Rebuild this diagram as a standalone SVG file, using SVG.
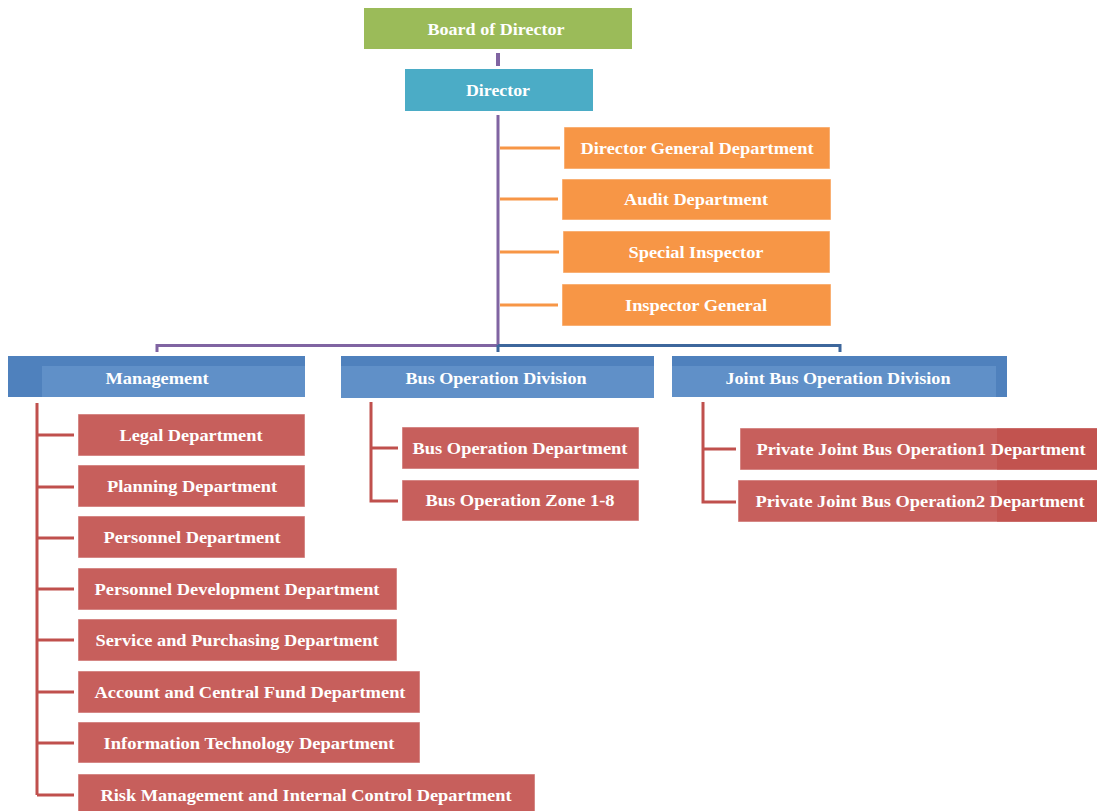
<svg xmlns="http://www.w3.org/2000/svg" width="1097" height="811" viewBox="0 0 1097 811">
<style>
text{font-family:"Liberation Serif","Times New Roman",serif;font-weight:bold;font-size:16px;fill:#fff;text-anchor:middle}
.r{fill:#C75F5C;stroke:#fff;stroke-opacity:0.5;stroke-width:1}
.o{fill:#F79646;stroke:#fff;stroke-opacity:0.5;stroke-width:1}
.b{fill:#4F81BD}
.bi{fill:#6090C8}
.lr{stroke:#C0504D;stroke-width:3;fill:none}
.lo{stroke:#F79646;stroke-width:3;fill:none}
</style>
<rect width="1097" height="811" fill="#fff"/>
<g id="connectors">
<line x1="498" y1="53" x2="498" y2="66" stroke="#8064A2" stroke-width="4"/>
<path d="M498 115 V346 M157 352 V345.5 H498" stroke="#8064A2" stroke-width="3" fill="none"/>
<path d="M498 345.5 H840 V352 M498 345 V352" stroke="#3D679C" stroke-width="3" fill="none"/>
<path class="lo" d="M500 148 H560 M500 199 H558 M500 252 H559 M500 305 H558"/>
<path class="lr" d="M37 403 V795 M37 435 H74 M37 487 H74 M37 538 H74 M37 589 H74 M37 640 H74 M37 692 H74 M37 743 H74 M37 795 H74"/>
<path class="lr" d="M371 402 V501 H398 M371 448 H398"/>
<path class="lr" d="M703 402 V502 H736 M703 449 H736"/>
</g>
<g id="board"><rect x="364" y="8" width="268" height="41" fill="#9BBB59"/><text x="496" y="35" textLength="137" lengthAdjust="spacingAndGlyphs">Board of Director</text></g>
<g id="director"><rect x="405" y="69" width="188" height="42" fill="#4BACC6"/><text x="498" y="96" textLength="64" lengthAdjust="spacingAndGlyphs">Director</text></g>
<g id="dgd"><rect class="o" x="564" y="127" width="266" height="42"/><text x="697" y="154" textLength="233" lengthAdjust="spacingAndGlyphs">Director General Department</text></g>
<g id="audit"><rect class="o" x="562" y="179" width="269" height="41"/><text x="696" y="205" textLength="144" lengthAdjust="spacingAndGlyphs">Audit Department</text></g>
<g id="special"><rect class="o" x="563" y="231" width="267" height="42"/><text x="696" y="258" textLength="135" lengthAdjust="spacingAndGlyphs">Special Inspector</text></g>
<g id="ig"><rect class="o" x="562" y="284" width="269" height="42"/><text x="696" y="311" textLength="142" lengthAdjust="spacingAndGlyphs">Inspector General</text></g>
<g id="management"><rect class="b" x="8" y="356" width="297" height="41"/><rect class="bi" x="42" y="366" width="263" height="31"/><text x="157" y="384" textLength="103" lengthAdjust="spacingAndGlyphs">Management</text></g>
<g id="bod"><rect class="b" x="341" y="356" width="313" height="42"/><rect class="bi" x="341" y="366" width="313" height="32"/><text x="496" y="384" textLength="181" lengthAdjust="spacingAndGlyphs">Bus Operation Division</text></g>
<g id="jbod"><rect class="b" x="672" y="356" width="335" height="41"/><rect class="bi" x="672" y="366" width="324" height="31"/><text x="838" y="384" textLength="225" lengthAdjust="spacingAndGlyphs">Joint Bus Operation Division</text></g>
<g id="legal"><rect class="r" x="78" y="414" width="227" height="42"/><text x="191" y="441" textLength="143" lengthAdjust="spacingAndGlyphs">Legal Department</text></g>
<g id="planning"><rect class="r" x="78" y="465" width="227" height="42"/><text x="192" y="492" textLength="170" lengthAdjust="spacingAndGlyphs">Planning Department</text></g>
<g id="personnel"><rect class="r" x="78" y="516" width="227" height="42"/><text x="192" y="543" textLength="177" lengthAdjust="spacingAndGlyphs">Personnel Department</text></g>
<g id="pdev"><rect class="r" x="78" y="568" width="319" height="42"/><text x="237" y="595" textLength="285" lengthAdjust="spacingAndGlyphs">Personnel Development Department</text></g>
<g id="service"><rect class="r" x="78" y="619" width="319" height="42"/><text x="237" y="646" textLength="283" lengthAdjust="spacingAndGlyphs">Service and Purchasing Department</text></g>
<g id="account"><rect class="r" x="78" y="671" width="342" height="42"/><text x="250" y="698" textLength="311" lengthAdjust="spacingAndGlyphs">Account and Central Fund Department</text></g>
<g id="it"><rect class="r" x="78" y="722" width="342" height="41"/><text x="249" y="749" textLength="291" lengthAdjust="spacingAndGlyphs">Information Technology Department</text></g>
<g id="risk"><rect class="r" x="78" y="774" width="457" height="42"/><text x="306" y="801" textLength="411" lengthAdjust="spacingAndGlyphs">Risk Management and Internal Control Department</text></g>
<g id="bopd"><rect class="r" x="402" y="427" width="237" height="42"/><text x="520" y="454" textLength="215" lengthAdjust="spacingAndGlyphs">Bus Operation Department</text></g>
<g id="zone"><rect class="r" x="402" y="480" width="237" height="41"/><text x="520" y="506" textLength="189" lengthAdjust="spacingAndGlyphs">Bus Operation Zone 1-8</text></g>
<g id="pj1"><rect class="r" x="740" y="428" width="360" height="42"/><rect x="997" y="428.5" width="100" height="41" fill="#C2534F"/><text x="921" y="455" textLength="329" lengthAdjust="spacingAndGlyphs">Private Joint Bus Operation1 Department</text></g>
<g id="pj2"><rect class="r" x="738" y="480" width="362" height="42"/><rect x="997" y="480.5" width="100" height="41" fill="#C2534F"/><text x="920" y="507" textLength="329" lengthAdjust="spacingAndGlyphs">Private Joint Bus Operation2 Department</text></g>
</svg>
